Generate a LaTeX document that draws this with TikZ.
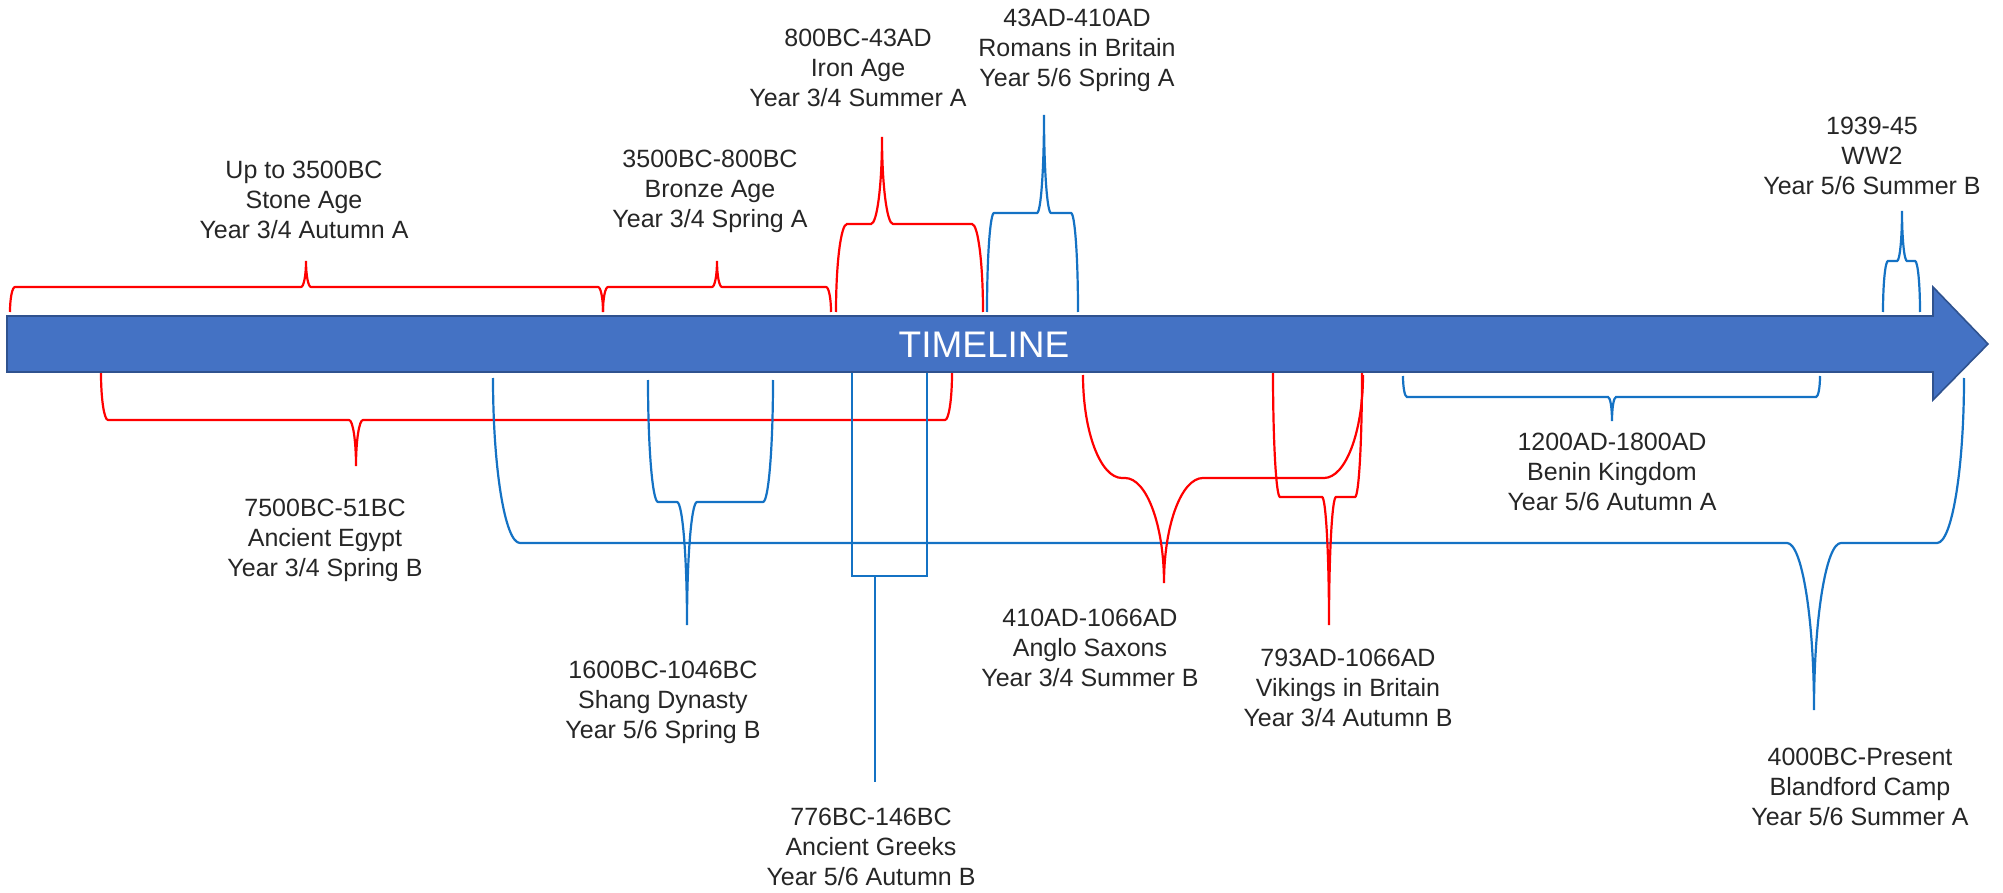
\documentclass[tikz,border=0pt]{standalone}
\usepackage{fontspec}
\setmainfont{Liberation Sans}

\definecolor{tlred}{RGB}{255,0,0}
\definecolor{tlblue}{RGB}{20,114,196}
\definecolor{barfill}{RGB}{68,114,196}
\definecolor{baredge}{RGB}{47,82,143}

% curly brace: style, left x, right x, tip x, end y, middle y, tip y, corner radius
\newcommand{\tlbrace}[8]{%
  \draw[#1] (#2,#5) .. controls (#2,{#5+0.552*(#6-#5)}) and ({#2+0.448*#8},#6) .. ({#2+#8},#6)
    -- ({#4-#8},#6) .. controls ({#4-0.448*#8},#6) and (#4,{#7+0.552*(#6-#7)}) .. (#4,#7)
    .. controls (#4,{#7+0.552*(#6-#7)}) and ({#4+0.448*#8},#6) .. ({#4+#8},#6)
    -- ({#3-#8},#6) .. controls ({#3-0.448*#8},#6) and (#3,{#5+0.552*(#6-#5)}) .. (#3,#5);}

\begin{document}
\begin{tikzpicture}[x=0.5pt,y=-0.5pt,
    redline/.style={tlred,line width=1.1pt},
    blueline/.style={tlblue,line width=1.1pt},
    lbl/.style={anchor=north,inner sep=0pt,align=center,text=black!85,
      font=\fontsize{12.5}{15}\selectfont}]
  \useasboundingbox (0,0) rectangle (2003,893);

  % Braces above the timeline
  \tlbrace{redline}{10}{603}{306}{312}{287}{261}{5}
  \tlbrace{redline}{603}{831}{717}{312}{287}{261}{5}
  \tlbrace{redline}{836}{983}{882}{312}{224}{137}{11}
  \tlbrace{blueline}{987}{1078}{1044}{312}{213}{115}{7}
  \tlbrace{blueline}{1883}{1920}{1902}{312}{261}{211}{5}

  % Braces below the timeline
  \tlbrace{redline}{101}{952}{356}{373}{420}{466}{7}
  \tlbrace{blueline}{493}{1964}{1814}{378}{543}{710}{27}
  \tlbrace{blueline}{648}{773}{687}{380}{502}{625}{10}
  \tlbrace{redline}{1083}{1363}{1164}{375}{478}{583}{39}
  \tlbrace{redline}{1273}{1362}{1329}{372}{497}{625}{7}
  \tlbrace{blueline}{1403}{1820}{1612}{376}{397}{421}{4}

  % Square bracket for the Greeks
  \draw[blueline] (852,372) -- (852,576) -- (927,576) -- (927,372);
  \draw[blueline] (875,576) -- (875,782);

  % Timeline arrow
  \draw[baredge,fill=barfill,line width=0.8pt,line join=miter]
    (7,316) -- (1933,316) -- (1933,287) -- (1988,344) -- (1933,400)
    -- (1933,372) -- (7,372) -- cycle;
  \node[white,inner sep=0pt,font=\fontsize{18.5}{20}\selectfont] (title) at (984,345) {TIMELINE};

  % Labels
  \node[lbl] (stone) at (304,161) {Up to 3500BC\\Stone Age\\Year 3/4 Autumn A};
  \node[lbl] (bronze) at (710,150) {3500BC-800BC\\Bronze Age\\Year 3/4 Spring A};
  \node[lbl] (iron) at (858,29) {800BC-43AD\\Iron Age\\Year 3/4 Summer A};
  \node[lbl] (romans) at (1077,9) {43AD-410AD\\Romans in Britain\\Year 5/6 Spring A};
  \node[lbl] (ww2) at (1872,117) {1939-45\\WW2\\Year 5/6 Summer B};
  \node[lbl] (egypt) at (325,499) {7500BC-51BC\\Ancient Egypt\\Year 3/4 Spring B};
  \node[lbl] (shang) at (663,661) {1600BC-1046BC\\Shang Dynasty\\Year 5/6 Spring B};
  \node[lbl] (greeks) at (871,808) {776BC-146BC\\Ancient Greeks\\Year 5/6 Autumn B};
  \node[lbl] (anglo) at (1090,609) {410AD-1066AD\\Anglo Saxons\\Year 3/4 Summer B};
  \node[lbl] (vikings) at (1348,649) {793AD-1066AD\\Vikings in Britain\\Year 3/4 Autumn B};
  \node[lbl] (benin) at (1612,433) {1200AD-1800AD\\Benin Kingdom\\Year 5/6 Autumn A};
  \node[lbl] (blandford) at (1860,748) {4000BC-Present\\Blandford Camp\\Year 5/6 Summer A};
\end{tikzpicture}
\end{document}
